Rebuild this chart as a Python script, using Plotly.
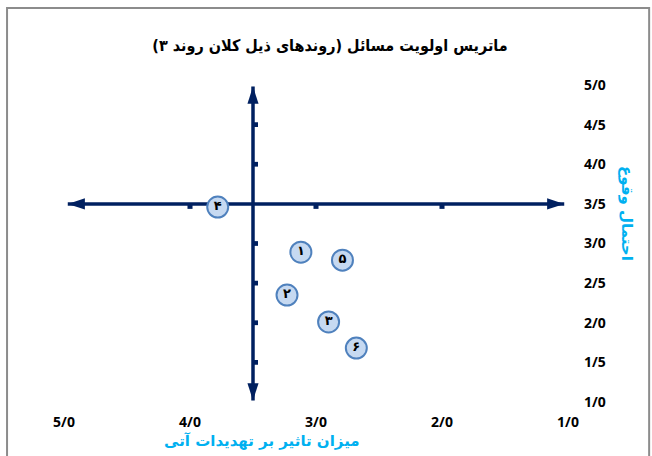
import plotly.graph_objects as go

# ---- data ----
labels = ["۱", "۲", "۳", "۴", "۵", "۶"]
impact = [3.12, 3.23, 2.90, 3.78, 2.79, 2.68]        # x: میزان تاثیر بر تهدیدات آتی
likelihood = [2.89, 2.35, 2.01, 3.46, 2.79, 1.68]    # y: احتمال وقوع
x_ticks = [5.0, 4.0, 3.0, 2.0, 1.0]
x_ticktext = ["5/0", "4/0", "3/0", "2/0", "1/0"]
y_ticks = [1.0, 1.5, 2.0, 2.5, 3.0, 3.5, 4.0, 4.5, 5.0]
y_ticktext = ["1/0", "1/5", "2/0", "2/5", "3/0", "3/5", "4/0", "4/5", "5/0"]
cross_x = 3.5
cross_y = 3.5
h_minor = [4.0, 3.0, 2.0]
v_minor = [4.5, 4.0, 3.0, 2.5, 2.0, 1.5]

title = "ماتریس اولویت مسائل (روندهای ذیل کلان روند ۳)"
x_title = "میزان تاثیر بر تهدیدات آتی"
y_title = "احتمال وقوع"

NAVY = "#002060"
CYAN = "#00b0f0"

x_lo, x_hi = min(x_ticks) + 0.03, max(x_ticks) - 0.03
y_lo, y_hi = min(y_ticks) + 0.02, max(y_ticks) - 0.02

fig = go.Figure()
# crossing axis lines (drawn beneath the points)
fig.add_trace(go.Scatter(x=[x_hi, x_lo], y=[cross_y, cross_y], mode="lines",
                         line=dict(color=NAVY, width=3.5), hoverinfo="skip",
                         showlegend=False, cliponaxis=False))
fig.add_trace(go.Scatter(x=[cross_x, cross_x], y=[y_lo, y_hi], mode="lines",
                         line=dict(color=NAVY, width=3.5), hoverinfo="skip",
                         showlegend=False, cliponaxis=False))
# arrow heads
fig.add_trace(go.Scatter(x=[x_hi, x_lo, cross_x, cross_x],
                         y=[cross_y, cross_y, y_hi, y_lo], mode="markers",
                         marker=dict(symbol="arrow", size=18, color=NAVY,
                                     angle=[270, 90, 0, 180], line=dict(width=0)),
                         hoverinfo="skip", showlegend=False, cliponaxis=False))
# data points
fig.add_trace(go.Scatter(
    x=impact, y=likelihood, mode="markers+text", text=["<b>" + t + "</b>" for t in labels],
    textposition="middle center",
    textfont=dict(family="DejaVu Sans", size=13, color="black"),
    marker=dict(size=21, color="#c6d9f1", line=dict(color="#4f81bd", width=2)),
    hoverinfo="skip", showlegend=False, cliponaxis=False,
))

shapes = []
# chart border
shapes.append(dict(type="rect", xref="paper", yref="paper",
                   x0=-0.113, x1=1.161, y0=-0.25, y1=1.243,
                   line=dict(color="#8c8c8c", width=2), layer="below"))
# ticks on horizontal crossing line (below it)
for xv in h_minor:
    shapes.append(dict(type="rect", xref="x", yref="y", ysizemode="pixel", yanchor=cross_y,
                       x0=xv - 0.02, x1=xv + 0.02, y0=-5, y1=0, layer="below",
                       fillcolor=NAVY, line=dict(width=0)))
# ticks on vertical crossing line (right side)
for yv in v_minor:
    shapes.append(dict(type="rect", xref="x", yref="y", xsizemode="pixel", xanchor=cross_x,
                       x0=0, x1=5, y0=yv - 0.03, y1=yv + 0.03, layer="below",
                       fillcolor=NAVY, line=dict(width=0)))

annotations = []
# axis titles
annotations.append(dict(text="<b>" + x_title + "</b>", xref="paper", yref="paper",
                        x=(262 - 64) / 504, y=-(452 - 402) / 317, showarrow=False,
                        font=dict(family="DejaVu Sans", size=15, color=CYAN)))
annotations.append(dict(text="<b>" + y_title + "</b>", xref="paper", yref="paper",
                        x=(638 - 64) / 504, y=(402 - 213) / 317, showarrow=False,
                        textangle=90,
                        font=dict(family="DejaVu Sans", size=15, color=CYAN)))

fig.update_layout(
    width=652, height=456,
    margin=dict(l=64, r=84, t=85, b=54),
    paper_bgcolor="white", plot_bgcolor="white",
    title=dict(text="<b>" + title + "</b>", x=(330) / 652, xanchor="center",
               y=1 - 45 / 456, yanchor="middle",
               font=dict(family="DejaVu Sans Condensed", size=16, color="black")),
    xaxis=dict(range=[max(x_ticks), min(x_ticks)], tickvals=x_ticks, ticktext=x_ticktext,
               showgrid=False, zeroline=False, showline=False, ticks="",
               ticklabelstandoff=10,
               tickfont=dict(family="Open Sans", size=14, color="black", weight="bold")),
    yaxis=dict(range=[min(y_ticks), max(y_ticks)], tickvals=y_ticks, ticktext=y_ticktext,
               side="right", showgrid=False, zeroline=False, showline=False, ticks="",
               ticklabelstandoff=15,
               tickfont=dict(family="Open Sans", size=14, color="black", weight="bold")),
    shapes=shapes, annotations=annotations,
)

fig.write_html("out.html")
